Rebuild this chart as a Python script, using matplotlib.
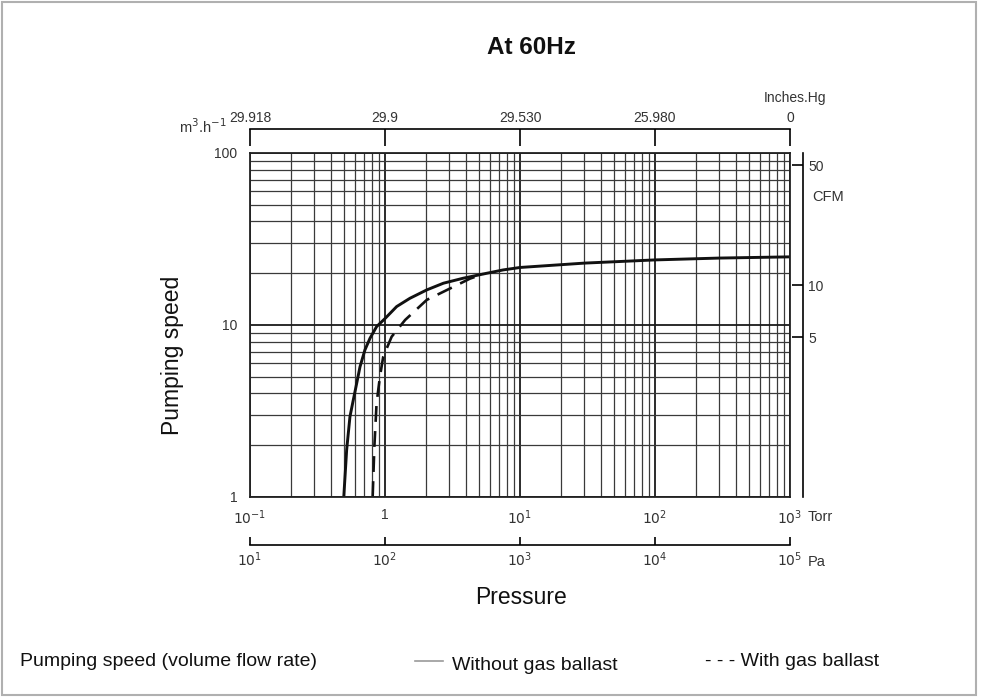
import matplotlib
matplotlib.use("Agg")
import matplotlib.pyplot as plt
from matplotlib.ticker import NullLocator, FixedLocator
from matplotlib.patches import Rectangle
from matplotlib.lines import Line2D

plt.rcParams['font.family'] = ['Liberation Sans', 'DejaVu Sans']

# ---- data ----
torr_ticks = [0.1, 1, 10, 100, 1000]
torr_labels = [r'$10^{-1}$', '1', r'$10^{1}$', r'$10^{2}$', r'$10^{3}$']
pa_ticks = [1e1, 1e2, 1e3, 1e4, 1e5]
pa_labels = [r'$10^{1}$', r'$10^{2}$', r'$10^{3}$', r'$10^{4}$', r'$10^{5}$']
inhg_labels = ['29.918', '29.9', '29.530', '25.980', '0']
speed_ticks = [1, 10, 100]
speed_labels = ['1', '10', '100']
cfm_ticks = [5, 10, 50]
cfm_labels = ['5', '10', '50']

pressure_no_ballast = [0.495, 0.52, 0.55, 0.582, 0.617, 0.653, 0.71, 0.774, 0.866, 1.0, 1.22,
                       1.53, 2.04, 2.71, 3.79, 5.35, 7.5, 10, 30, 100, 300, 1000]
speed_no_ballast = [1.0, 1.88, 2.93, 3.66, 4.58, 5.72, 7.16, 8.37, 9.78, 10.9, 12.8,
                    14.3, 16.0, 17.5, 18.7, 19.8, 20.9, 21.6, 22.9, 23.9, 24.5, 24.9]

pressure_ballast = [0.81, 0.834, 0.866, 0.917, 0.97, 1.12, 1.41, 2.04, 3.03, 4.26, 5.35]
speed_ballast = [1.0, 1.96, 3.5, 5.0, 6.54, 8.55, 10.7, 14.0, 16.3, 18.6, 19.8]

M3H_TO_CFM = 0.5886

W, H = 981, 698
fig = plt.figure(figsize=(W / 100, H / 100), dpi=100)

def fx(px):
    return px / W

def fy(py):
    return 1 - py / H

x0, x1 = 250, 790
y0, y1 = 153, 497
ax = fig.add_axes([fx(x0), fy(y1), fx(x1) - fx(x0), fy(y0) - fy(y1)])
ax.set_xscale('log')
ax.set_yscale('log')
ax.set_xlim(0.1, 1000)
ax.set_ylim(1, 100)

ax.grid(True, which='minor', color='#3a3a3a', lw=0.9)
ax.grid(True, which='major', color='#1a1a1a', lw=1.3)
ax.set_axisbelow(True)

for s in ax.spines.values():
    s.set_color('#222222')
    s.set_linewidth(1.3)

ax.xaxis.set_major_locator(FixedLocator(torr_ticks))
ax.set_xticklabels(torr_labels)
ax.yaxis.set_major_locator(FixedLocator(speed_ticks))
ax.set_yticklabels(speed_labels)
ax.tick_params(which='both', length=0)
ax.tick_params(axis='x', labelsize=10, pad=8, labelcolor='#333333')
ax.tick_params(axis='y', labelsize=10, pad=9, labelcolor='#333333')

ax.plot(pressure_no_ballast, speed_no_ballast, color='#111111', lw=2.1,
        solid_capstyle='butt', solid_joinstyle='round')
ax.plot(pressure_ballast, speed_ballast, color='#111111', lw=1.9, dashes=(6, 3.5))

# top Inches Hg axis
top = ax.secondary_xaxis('top')
top.xaxis.set_major_locator(FixedLocator(torr_ticks))
top.xaxis.set_minor_locator(NullLocator())
top.set_xticklabels(inhg_labels)
top.spines['top'].set_position(('outward', 17.5))
top.spines['top'].set_linewidth(1.2)
top.tick_params(direction='in', length=12, width=1.2, labelsize=10, pad=3, labelcolor='#333333')

# bottom Pa axis
pa = ax.secondary_xaxis('bottom', functions=(lambda t: t * 100, lambda p: p / 100))
pa.xaxis.set_major_locator(FixedLocator(pa_ticks))
pa.xaxis.set_minor_locator(NullLocator())
pa.set_xticklabels(pa_labels)
pa.spines['bottom'].set_position(('outward', 34.5))
pa.spines['bottom'].set_linewidth(1.2)
pa.tick_params(direction='in', length=6, width=1.2, labelsize=10, pad=4, labelcolor='#333333')

# right CFM axis
cfm = ax.secondary_yaxis('right', functions=(lambda s: s * M3H_TO_CFM, lambda c: c / M3H_TO_CFM))
cfm.yaxis.set_major_locator(FixedLocator(cfm_ticks))
cfm.yaxis.set_minor_locator(NullLocator())
cfm.set_yticklabels(cfm_labels)
cfm.spines['right'].set_position(('outward', 9))
cfm.spines['right'].set_linewidth(1.2)
cfm.tick_params(direction='in', length=8, width=1.2, labelsize=10, pad=4, labelcolor='#333333')

# texts
fig.text(fx(531), fy(47), 'At 60Hz', fontsize=17.5, fontweight='bold', ha='center', va='center', color='#111111')
fig.text(fx(173), fy(355), 'Pumping speed', fontsize=16.5, rotation=90, ha='center', va='center', color='#111111')
fig.text(fx(521), fy(598), 'Pressure', fontsize=16.5, ha='center', va='center', color='#111111')
fig.text(fx(203), fy(127), r'm$^3$.h$^{-1}$', fontsize=10.5, ha='center', va='center', color='#333333')
fig.text(fx(795), fy(98), 'Inches.Hg', fontsize=10, ha='center', va='center', color='#333333')
fig.text(fx(812), fy(197), 'CFM', fontsize=10.5, ha='left', va='center', color='#333333')
fig.text(fx(808), fy(517), 'Torr', fontsize=10.5, ha='left', va='center', color='#333333')
fig.text(fx(808), fy(562), 'Pa', fontsize=10.5, ha='left', va='center', color='#333333')

# legend row
fig.text(fx(20), fy(662), 'Pumping speed (volume flow rate)', fontsize=14, ha='left', va='center', color='#111111')
fig.add_artist(Line2D([fx(415), fx(443)], [fy(661), fy(661)], color='#9a9a9a', lw=1.2))
fig.text(fx(452), fy(665), 'Without gas ballast', fontsize=14, ha='left', va='center', color='#111111')
fig.text(fx(705), fy(662), '- - - With gas ballast', fontsize=14, ha='left', va='center', color='#111111')

# outer frame
fig.add_artist(Rectangle((fx(2), fy(695)), fx(976) - fx(2), fy(2) - fy(695), fill=False,
                         edgecolor='#b0b0b0', lw=1.5, transform=fig.transFigure))

fig.savefig('out.png', dpi=100)
